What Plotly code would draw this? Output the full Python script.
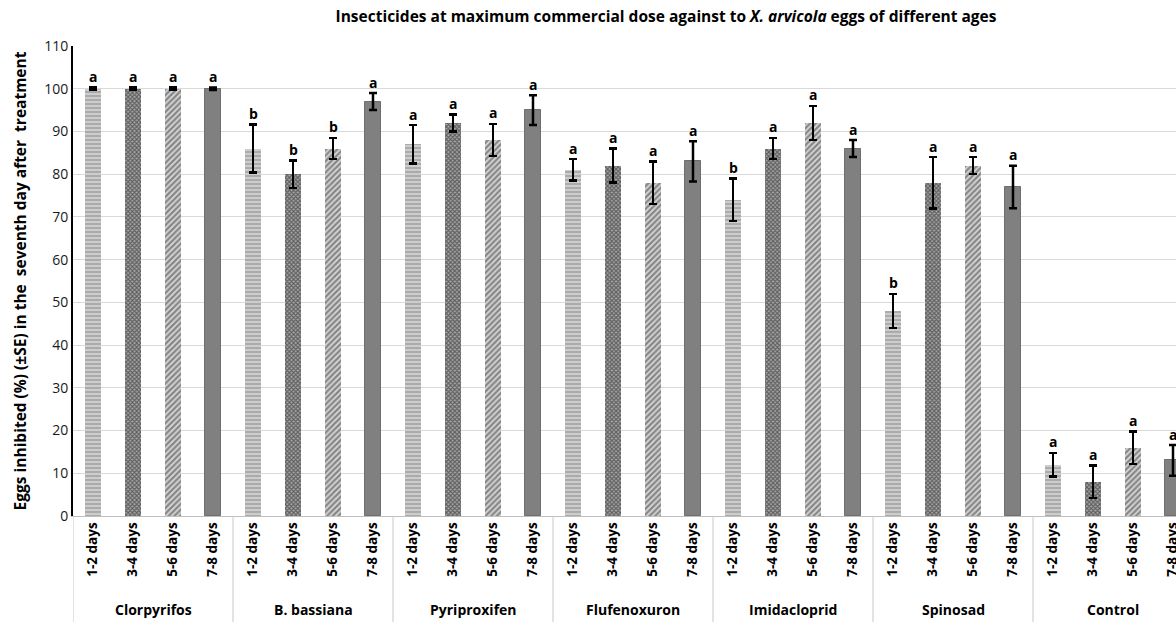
import plotly.graph_objects as go

groups = ["Clorpyrifos", "B. bassiana", "Pyriproxifen", "Flufenoxuron",
          "Imidacloprid", "Spinosad", "Control"]
ages = ["1-2 days", "3-4 days", "5-6 days", "7-8 days"]

# values per age class (one entry per group)
v_12 = [100, 86, 87, 81, 74, 48, 12]
v_34 = [100, 80, 92, 82, 86, 78, 8]
v_56 = [100, 86, 88, 78, 92, 82, 16]
v_78 = [100, 97, 95, 83, 86, 77, 13]

e_12 = [0.3, 5.6, 4.5, 2.5, 5.0, 4.0, 2.8]
e_34 = [0.3, 3.2, 2.0, 4.0, 2.5, 6.0, 3.8]
e_56 = [0.3, 2.5, 3.8, 5.0, 4.0, 2.0, 3.8]
e_78 = [0.3, 2.0, 3.5, 4.7, 2.0, 5.0, 3.6]

l_12 = ["a", "b", "a", "a", "b", "b", "a"]
l_34 = ["a", "b", "a", "a", "a", "a", "a"]
l_56 = ["a", "b", "a", "a", "a", "a", "a"]
l_78 = ["a", "a", "a", "a", "a", "a", "a"]

values = [v_12, v_34, v_56, v_78]
errors = [e_12, e_34, e_56, e_78]
letters = [l_12, l_34, l_56, l_78]

patterns = [
    dict(shape="-", fgcolor="#8a8a8a", bgcolor="#cdcdcd", size=4, solidity=0.5),
    dict(shape="x", fgcolor="#111111", bgcolor="#a8a8a8", size=3, solidity=0.6),
    dict(shape="/", fgcolor="#333333", bgcolor="#d8d8d8", size=4, solidity=0.55),
    dict(shape="", fgcolor="#808080", bgcolor="#808080"),
]
colors = ["#bdbdbd", "#444444", "#9a9a9a", "#808080"]

FONT = "Open Sans"
fig = go.Figure()
n = len(ages)
for j in range(n):
    xs = [n * g + j for g in range(len(groups))]
    fig.add_trace(go.Bar(
        x=xs, y=values[j], width=0.42, name=ages[j],
        marker=dict(color=colors[j], pattern=patterns[j],
                    line=dict(width=1 if j == 3 else 0, color="#6e6e6e")),
        error_y=dict(type="data", array=errors[j], visible=True,
                     color="black", thickness=2.5, width=4),
        showlegend=False,
    ))
    for g in range(len(groups)):
        fig.add_annotation(x=xs[g], y=values[j][g] + errors[j][g], yshift=11,
                           text="<b>%s</b>" % letters[j][g], showarrow=False,
                           font=dict(family=FONT, size=14, color="black"))

tickvals = [n * g + j for g in range(len(groups)) for j in range(n)]
ticktext = ["<b>%s</b>" % ages[j] for g in range(len(groups)) for j in range(n)]

W, H = 1176, 622
ML, MT = 73, 46
plot_h = 470
MB = H - MT - plot_h
for g in range(len(groups) + 1):
    fig.add_shape(type="line", xref="x", yref="paper",
                  x0=n * g - 0.5, x1=n * g - 0.5, y0=0, y1=-MB / plot_h,
                  line=dict(color="#c8c8c8", width=1))
for g, name in enumerate(groups):
    fig.add_annotation(x=n * g + 1.5, xref="x", yref="paper",
                       y=-(609 - 516) / plot_h, yanchor="middle",
                       text="<b>%s</b>" % name, showarrow=False,
                       font=dict(family=FONT, size=14, color="black"))

fig.update_layout(
    width=W, height=H,
    margin=dict(l=ML, r=0, t=MT, b=MB),
    plot_bgcolor="white", paper_bgcolor="white",
    bargap=0,
    title=dict(text="<b>Insecticides at maximum commercial dose against to <i>X. arvicola</i> eggs of different ages</b>",
               x=666 / W, xanchor="center", y=1 - 17 / H, yanchor="middle",
               font=dict(family=FONT, size=15.5, color="black")),
    xaxis=dict(range=[-0.5, 27.075], tickmode="array", tickvals=tickvals,
               ticktext=ticktext, tickangle=-90, showgrid=False, automargin=False,
               ticklabeloverflow="allow",
               showline=True, linecolor="#bfbfbf", linewidth=1, ticks="",
               tickfont=dict(family=FONT, size=13.5, color="black"), zeroline=False),
    yaxis=dict(range=[0, 110], dtick=10, showgrid=True, gridcolor="#d9d9d9",
               showline=True, linecolor="black", linewidth=2, ticks="",
               zeroline=False, automargin=False,
               tickfont=dict(family=FONT, size=14, color="#1a1a1a"),
               title=dict(text="<b>Eggs inhibited (%) (±SE) in the  seventh day after  treatment</b>",
                          font=dict(family=FONT, size=15.5, color="black"), standoff=14)),
)

fig.write_html("out.html", config={"displayModeBar": False},
               post_script="document.body.style.margin='0';document.body.style.overflow='hidden';")
